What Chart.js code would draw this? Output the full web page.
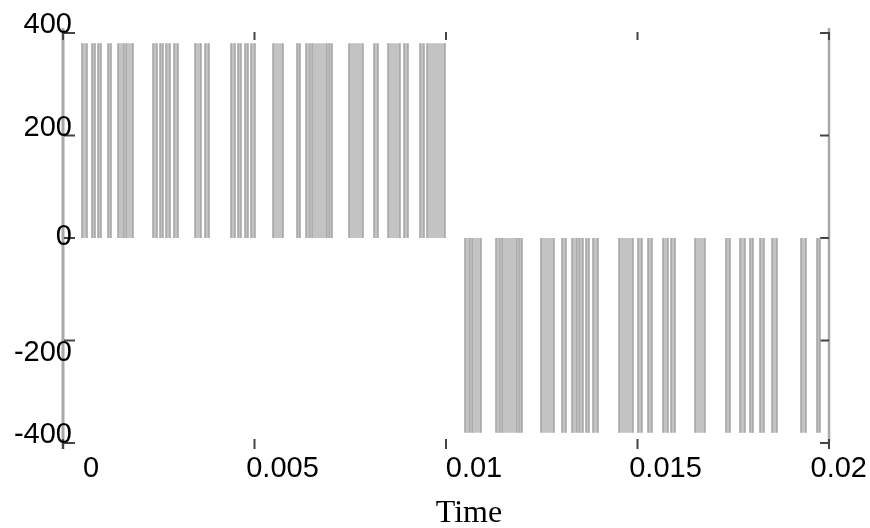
<!DOCTYPE html>
<html>
<head>
<meta charset="utf-8">
<script src="https://cdn.jsdelivr.net/npm/chart.js@4.4.1/dist/chart.umd.min.js"></script>
<style>
  html, body { margin: 0; padding: 0; background: #fff; }
  canvas { display: block; }
</style>
</head>
<body>
<canvas id="myChart" width="870" height="528"></canvas>
<script>
// pulse edges (seconds)
const posStart = [0.000496, 0.000757, 0.000914, 0.001175, 0.001436, 0.001645, 0.00235, 0.002533, 0.002689, 0.002898, 0.003447, 0.003708, 0.004386, 0.004569, 0.004752, 0.004909, 0.005483, 0.00611, 0.006345, 0.006501, 0.006945, 0.007467, 0.00812, 0.008486, 0.008904, 0.009321, 0.009504]
const posEnd = [0.000627, 0.000836, 0.000992, 0.001253, 0.001593, 0.001828, 0.002454, 0.002611, 0.002794, 0.003003, 0.003603, 0.003812, 0.004491, 0.004648, 0.00483, 0.005013, 0.005744, 0.006188, 0.006449, 0.006893, 0.007024, 0.007833, 0.008225, 0.008799, 0.009008, 0.009426, 0.009974]
const negStart = [0.010496, 0.010679, 0.011305, 0.011462, 0.011906, 0.01248, 0.013029, 0.01329, 0.013473, 0.013655, 0.013838, 0.014517, 0.015013, 0.015274, 0.015666, 0.015875, 0.016501, 0.01731, 0.017676, 0.017937, 0.018198, 0.018512, 0.019269, 0.019687]
const negEnd = [0.010627, 0.010914, 0.01141, 0.011854, 0.011984, 0.01282, 0.013133, 0.01342, 0.013577, 0.013734, 0.013969, 0.014883, 0.015117, 0.015379, 0.015796, 0.015979, 0.016762, 0.017415, 0.017807, 0.018016, 0.018303, 0.018642, 0.019399, 0.019765]
const posLevel = 380
const negLevel = -380

const xTicks = [0, 0.005, 0.01, 0.015, 0.02]
const xTickLabels = ['0', '0.005', '0.01', '0.015', '0.02']
const yTicks = [400, 200, 0, -200, -400]
const yTickLabels = ['400', '200', '0', '-200', '-400']
const xTitle = 'Time'

const lineGrey = '#a4a4a4'
const fillGrey = '#c3c3c3'
const tickFont = '29px "Liberation Sans", Arial, sans-serif'

function pulses(starts, ends, level) {
    let pts = []
    starts.forEach((s, i) => {
        pts.push({x: s, y: 0}, {x: s, y: level}, {x: ends[i], y: level}, {x: ends[i], y: 0})
    })
    return pts
}

// only the rising/falling edges get a stroke
const edgeOnly = ctx => ctx.p0.parsed.x === ctx.p1.parsed.x ? lineGrey : undefined

const seg = (ctx, x1, y1, x2, y2) => {
    ctx.beginPath(); ctx.moveTo(x1, y1); ctx.lineTo(x2, y2); ctx.stroke()
}

// axis lines and inward ticks go under everything else
const axisLines = {
    id: 'axisLines',
    beforeDraw(chart) {
        const {ctx, chartArea: a, scales: {x, y}} = chart
        ctx.save()
        ctx.strokeStyle = '#a9a9a9'
        ctx.lineWidth = 3
        seg(ctx, a.left, a.top - 5, a.left, a.bottom + 6)
        ctx.lineWidth = 2.5
        seg(ctx, a.right, a.top - 5, a.right, a.bottom)

        ctx.strokeStyle = '#444'
        ctx.lineWidth = 2
        y.ticks.forEach(t => {
            const py = y.getPixelForValue(t.value)
            seg(ctx, a.left + 1, py, a.left + 12, py)
            seg(ctx, a.right - 9, py, a.right, py)
        })
        x.ticks.forEach(t => {
            const px = x.getPixelForValue(t.value)
            seg(ctx, px, a.top - 1, px, a.top + 7)
            seg(ctx, px, a.bottom - 4, px, a.bottom + 6)
        })
        ctx.restore()
    }
}

// tick labels the way the original placed them: y labels sit on their tick and
// run over the axis, x labels sit right of their tick, last one kept on canvas
const axisText = {
    id: 'axisText',
    afterDraw(chart) {
        const {ctx, chartArea: a, scales: {x, y}} = chart
        const yDrop = {'0': 7, '-200': 20}
        ctx.save()
        ctx.fillStyle = '#000'
        ctx.textBaseline = 'alphabetic'
        ctx.font = tickFont

        ctx.textAlign = 'right'
        y.ticks.forEach(t => {
            const label = yTickLabels[yTicks.indexOf(t.value)]
            const py = y.getPixelForValue(t.value) + (yDrop[String(t.value)] || 0)
            ctx.fillText(label, a.left + 9, py)
        })

        ctx.textAlign = 'center'
        x.ticks.forEach(t => {
            const label = xTickLabels[xTicks.indexOf(t.value)]
            const w = ctx.measureText(label).width
            let cx = x.getPixelForValue(t.value) + 28
            cx = Math.min(cx, chart.width - 3 - w / 2)
            ctx.fillText(label, cx, a.bottom + 34)
        })
        ctx.font = '32px "Liberation Serif", "Times New Roman", serif'
        ctx.fillText(xTitle, (a.left + a.right) / 2 + 23, chart.height - 6)
        ctx.restore()
    }
}

const chart = new Chart(document.getElementById('myChart'), {
    type: 'line',
    data: {
        datasets: [{
            label: 'positive',
            data: pulses(posStart, posEnd, posLevel),
            borderColor: 'rgba(0,0,0,0)',
            backgroundColor: fillGrey,
            borderWidth: 1.5,
            fill: 'origin',
            pointRadius: 0,
            tension: 0,
            segment: {borderColor: edgeOnly}
        }, {
            label: 'negative',
            data: pulses(negStart, negEnd, negLevel),
            borderColor: 'rgba(0,0,0,0)',
            backgroundColor: fillGrey,
            borderWidth: 1.5,
            fill: 'origin',
            pointRadius: 0,
            tension: 0,
            segment: {borderColor: edgeOnly}
        }]
    },
    options: {
        responsive: false,
        animation: false,
        layout: {padding: {left: 0, top: 33, right: 41, bottom: 0}},
        plugins: {legend: {display: false}, tooltip: {enabled: false}},
        scales: {
            x: {
                type: 'linear', min: 0, max: 0.02,
                afterBuildTicks: s => { s.ticks = xTicks.map(v => ({value: v})) },
                afterFit: s => { s.height = 85 },
                grid: {display: false, drawTicks: false},
                border: {display: false},
                ticks: {display: false}
            },
            y: {
                type: 'linear', min: -400, max: 400,
                afterBuildTicks: s => { s.ticks = yTicks.map(v => ({value: v})) },
                afterFit: s => { s.width = 63 },
                grid: {display: false, drawTicks: false},
                border: {display: false},
                ticks: {display: false}
            }
        }
    },
    plugins: [axisLines, axisText]
})
</script>
</body>
</html>
